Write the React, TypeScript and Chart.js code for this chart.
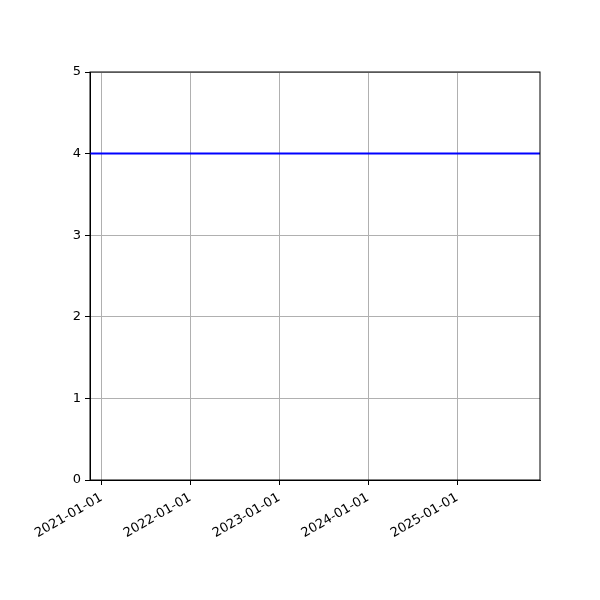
import { useEffect, useRef } from "react"
import { Chart, registerables, type ChartConfiguration, type Plugin } from "chart.js"

Chart.register(...registerables)

const dates = ["2020-11-15", "2025-12-07"]
const values = [4, 4]
const tickDates = ["2021-01-01", "2022-01-01", "2023-01-01", "2024-01-01", "2025-01-01"]
const yTicks = [0, 1, 2, 3, 4, 5]

const toMs = (d: string) => Date.parse(d + "T00:00:00Z")

const fmt = (v: number) => {
  const d = new Date(v)
  const m = String(d.getUTCMonth() + 1).padStart(2, "0")
  const day = String(d.getUTCDate()).padStart(2, "0")
  return `${d.getUTCFullYear()}-${m}-${day}`
}

// black frame around the plot area, like matplotlib spines
const framePlugin: Plugin = {
  id: "frame",
  afterDatasetsDraw(chart) {
    const { ctx, chartArea } = chart
    ctx.save()
    ctx.strokeStyle = "#000"
    ctx.lineWidth = 1
    ctx.strokeRect(chartArea.left, chartArea.top, chartArea.right - chartArea.left, chartArea.bottom - chartArea.top)
    ctx.restore()
  },
}

export default function App() {
  const chartRef = useRef<HTMLCanvasElement>(null)
  const chartInstance = useRef<Chart | null>(null)

  useEffect(() => {
    document.body.style.margin = "0"
    if (!chartRef.current) return
    if (chartInstance.current) chartInstance.current.destroy()
    const ctx = chartRef.current.getContext("2d")
    if (!ctx) return

    const font = { family: "DejaVu Sans", size: 13 }

    const config: ChartConfiguration = {
      type: "line",
      data: {
        datasets: [
          {
            data: dates.map((d, i) => ({ x: toMs(d), y: values[i] })),
            borderColor: "#0000ff",
            borderWidth: 2,
            pointRadius: 0,
            fill: false,
          },
        ],
      },
      options: {
        animation: false,
        responsive: false,
        layout: { padding: { top: 72, right: 60, left: 0, bottom: 0 } },
        plugins: { legend: { display: false }, tooltip: { enabled: false } },
        scales: {
          x: {
            type: "linear",
            min: toMs(dates[0]),
            max: toMs(dates[dates.length - 1]),
            afterBuildTicks: (scale) => {
              scale.ticks = tickDates.map((d) => ({ value: toMs(d) }))
            },
            afterFit: (scale) => {
              scale.height = 120
            },
            ticks: {
              callback: (v) => fmt(Number(v)),
              color: "#000",
              font,
              minRotation: 30,
              maxRotation: 30,
              autoSkip: false,
              padding: 5,
            },
            grid: { color: "#b0b0b0", lineWidth: 1, tickColor: "#000", tickLength: 5 },
            border: { color: "#000", width: 1 },
          },
          y: {
            min: 0,
            max: 5,
            afterBuildTicks: (scale) => {
              scale.ticks = yTicks.map((v) => ({ value: v }))
            },
            afterFit: (scale) => {
              scale.width = 90
            },
            ticks: { color: "#000", font, padding: 4 },
            grid: { color: "#b0b0b0", lineWidth: 1, tickColor: "#000", tickLength: 5 },
            border: { color: "#000", width: 1 },
          },
        },
      },
      plugins: [framePlugin],
    }

    chartInstance.current = new Chart(ctx, config)
    return () => {
      if (chartInstance.current) chartInstance.current.destroy()
    }
  }, [])

  return (
    <div style={{ width: 600, height: 600 }}>
      <canvas ref={chartRef} width={600} height={600}></canvas>
    </div>
  )
}
